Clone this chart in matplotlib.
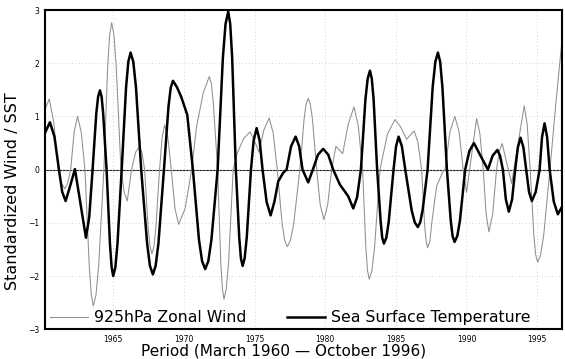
import matplotlib
matplotlib.use("Agg")
import matplotlib.pyplot as plt

# 925hPa zonal wind (standardized)
wind_year = [
    1960.17, 1960.47, 1960.79, 1961.11, 1961.34, 1961.58, 1961.78, 1961.99,
    1962.23, 1962.48, 1962.74, 1963.00, 1963.30, 1963.45, 1963.59, 1963.78,
    1963.97, 1964.34, 1964.61, 1964.75, 1964.89, 1965.05, 1965.21, 1965.55,
    1965.77, 1965.99, 1966.30, 1966.59, 1966.87, 1967.05, 1967.22, 1967.48,
    1967.61, 1967.74, 1967.88, 1968.01, 1968.28, 1968.46, 1968.64, 1968.87,
    1969.11, 1969.37, 1969.63, 1970.09, 1970.55, 1970.90, 1971.37, 1971.80,
    1971.95, 1972.09, 1972.39, 1972.61, 1972.73, 1972.84, 1973.00, 1973.17,
    1973.49, 1973.78, 1974.22, 1974.68, 1974.99, 1975.31, 1975.67, 1976.04,
    1976.32, 1976.61, 1976.96, 1977.14, 1977.32, 1977.54, 1977.77, 1978.21,
    1978.51, 1978.65, 1978.80, 1978.95, 1979.10, 1979.40, 1979.65, 1979.91,
    1980.18, 1980.46, 1980.76, 1981.24, 1981.63, 1982.04, 1982.34, 1982.65,
    1982.88, 1983.00, 1983.12, 1983.31, 1983.50, 1983.88, 1984.41, 1984.94,
    1985.35, 1985.77, 1986.30, 1986.56, 1986.83, 1987.04, 1987.15, 1987.25,
    1987.41, 1987.57, 1987.89, 1988.35, 1988.48, 1988.83, 1989.18, 1989.48,
    1989.77, 1990.01, 1990.36, 1990.72, 1990.95, 1991.19, 1991.39, 1991.59,
    1991.86, 1992.13, 1992.33, 1992.53, 1992.86, 1993.20, 1993.64, 1994.09,
    1994.30, 1994.51, 1994.77, 1994.90, 1995.04, 1995.25, 1995.47, 1995.91,
    1996.33, 1996.73,
]
wind_val = [
    1.12, 1.33, 0.90, 0.00, -0.26, -0.36, -0.25, 0.00,
    0.70, 1.00, 0.70, 0.00, -1.80, -2.36, -2.56, -2.36,
    -1.80, 0.00, 1.95, 2.54, 2.76, 2.54, 1.95, 0.00,
    -0.42, -0.59, 0.00, 0.33, 0.44, 0.30, 0.00, -1.12,
    -1.45, -1.58, -1.45, -1.12, 0.00, 0.60, 0.84, 0.60,
    0.00, -0.73, -1.03, -0.73, 0.00, 0.81, 1.44, 1.75,
    1.61, 1.24, 0.00, -1.73, -2.24, -2.44, -2.24, -1.73,
    0.00, 0.31, 0.58, 0.71, 0.55, 0.33, 0.75, 0.97,
    0.69, 0.00, -1.03, -1.33, -1.45, -1.33, -1.03, 0.00,
    0.95, 1.23, 1.34, 1.23, 0.95, 0.00, -0.66, -0.94,
    -0.66, 0.00, 0.44, 0.30, 0.85, 1.18, 0.83, 0.00,
    -1.46, -1.90, -2.06, -1.90, -1.46, 0.00, 0.67, 0.94,
    0.80, 0.57, 0.73, 0.52, 0.00, -1.04, -1.35, -1.47,
    -1.35, -0.95, -0.31, -0.03, 0.00, 0.71, 1.00, 0.71,
    0.00, -0.43, 0.27, 0.96, 0.68, 0.00, -0.83, -1.17,
    -0.83, 0.00, 0.35, 0.49, 0.12, -0.26, 0.47, 1.20,
    0.85, 0.00, -1.23, -1.60, -1.74, -1.60, -1.23, 0.00,
    1.25, 2.34,
]

# sea surface temperature (standardized)
sst_year = [
    1960.17, 1960.52, 1960.84, 1961.16, 1961.39, 1961.63, 1961.96, 1962.29,
    1962.68, 1963.07, 1963.30, 1963.54, 1963.80, 1963.93, 1964.06, 1964.18,
    1964.29, 1964.53, 1964.77, 1964.89, 1965.00, 1965.15, 1965.30, 1965.60,
    1965.91, 1966.07, 1966.23, 1966.42, 1966.61, 1966.98, 1967.40, 1967.60,
    1967.81, 1968.00, 1968.20, 1968.59, 1968.91, 1969.07, 1969.23, 1969.51,
    1969.81, 1970.24, 1970.43, 1970.64, 1971.07, 1971.29, 1971.51, 1971.73,
    1971.95, 1972.39, 1972.76, 1972.95, 1973.14, 1973.28, 1973.42, 1973.68,
    1973.92, 1974.04, 1974.16, 1974.30, 1974.45, 1974.75, 1974.94, 1975.15,
    1975.36, 1975.57, 1975.86, 1976.14, 1976.41, 1976.68, 1977.03, 1977.27,
    1977.59, 1977.91, 1978.16, 1978.40, 1978.80, 1979.13, 1979.49, 1979.86,
    1980.22, 1980.57, 1981.04, 1981.63, 1981.99, 1982.26, 1982.53, 1982.85,
    1983.01, 1983.17, 1983.30, 1983.43, 1983.68, 1983.93, 1984.04, 1984.16,
    1984.33, 1984.50, 1984.84, 1985.02, 1985.20, 1985.43, 1985.67, 1986.12,
    1986.34, 1986.56, 1986.73, 1986.90, 1987.25, 1987.61, 1987.80, 1987.98,
    1988.14, 1988.30, 1988.62, 1988.89, 1989.02, 1989.16, 1989.35, 1989.54,
    1989.91, 1990.21, 1990.53, 1991.02, 1991.52, 1991.85, 1992.19, 1992.38,
    1992.58, 1992.79, 1993.00, 1993.23, 1993.45, 1993.64, 1993.83, 1994.03,
    1994.23, 1994.43, 1994.63, 1994.90, 1995.18, 1995.35, 1995.53, 1995.71,
    1995.89, 1996.18, 1996.47, 1996.76,
]
sst_val = [
    0.69, 0.89, 0.62, 0.00, -0.42, -0.59, -0.30, 0.01,
    -0.64, -1.28, -0.90, 0.00, 1.05, 1.37, 1.49, 1.37,
    1.05, 0.00, -1.40, -1.84, -2.00, -1.84, -1.40, 0.00,
    1.55, 2.03, 2.20, 2.03, 1.55, 0.00, -1.39, -1.81,
    -1.97, -1.81, -1.39, 0.00, 1.18, 1.54, 1.67, 1.55,
    1.37, 1.03, 0.55, 0.00, -1.32, -1.72, -1.87, -1.72,
    -1.32, 0.00, 2.10, 2.74, 2.97, 2.74, 2.10, 0.00,
    -1.28, -1.67, -1.81, -1.67, -1.28, 0.00, 0.55, 0.78,
    0.55, 0.00, -0.61, -0.86, -0.60, -0.22, -0.06, 0.00,
    0.44, 0.62, 0.44, 0.00, -0.24, 0.00, 0.28, 0.39,
    0.28, 0.00, -0.28, -0.50, -0.73, -0.52, 0.00, 1.32,
    1.71, 1.86, 1.71, 1.32, 0.00, -0.98, -1.28, -1.39,
    -1.28, -0.98, 0.00, 0.44, 0.62, 0.44, 0.00, -0.76,
    -0.99, -1.08, -0.99, -0.76, 0.00, 1.55, 2.03, 2.20,
    2.03, 1.55, 0.00, -0.96, -1.25, -1.36, -1.25, -0.96,
    0.00, 0.35, 0.50, 0.25, 0.00, 0.26, 0.37, 0.26,
    0.00, -0.56, -0.79, -0.56, 0.00, 0.42, 0.60, 0.42,
    0.00, -0.42, -0.59, -0.42, 0.00, 0.61, 0.87, 0.61,
    0.00, -0.60, -0.84, -0.70,
]

year_ticks = [1965, 1970, 1975, 1980, 1985, 1990, 1995]
y_ticks = [-3, -2, -1, 0, 1, 2, 3]

fig = plt.figure(figsize=(5.65, 3.59), dpi=100)
ax = fig.add_axes([0.0796, 0.083, 0.915, 0.889])

ax.plot(wind_year, wind_val, color="#8f8f8f", lw=0.75,
        solid_joinstyle="round", label="925hPa Zonal Wind")
ax.plot(sst_year, sst_val, color="black", lw=1.8,
        solid_joinstyle="round", label="Sea Surface Temperature")
ax.axhline(0, color="#222222", lw=0.8, zorder=1)

ax.set_xlim(1960.17, 1996.76)
ax.set_ylim(-3, 3)
ax.set_xticks(year_ticks)
ax.set_yticks(y_ticks)
ax.tick_params(labelsize=5.5, length=0, pad=4)
ax.grid(True, color="#c4c4c4", linestyle=(0, (1, 3)), lw=0.6)
for sp in ax.spines.values():
    sp.set_linewidth(1.5)

ax.set_ylabel("Standardized Wind / SST", fontsize=11.5)
ax.yaxis.set_label_coords(-0.048, 0.434)
ax.set_xlabel("Period (March 1960 \u2014 October 1996)", fontsize=11)
ax.xaxis.set_label_coords(0.462, -0.045)

ax.legend(loc="lower left", ncol=2, frameon=False, fontsize=11.3,
          handlelength=2.4, handletextpad=0.4, columnspacing=2.6,
          borderpad=0.0, borderaxespad=0.0,
          bbox_to_anchor=(0.01, 0.012))

fig.savefig("out.png", dpi=100)
